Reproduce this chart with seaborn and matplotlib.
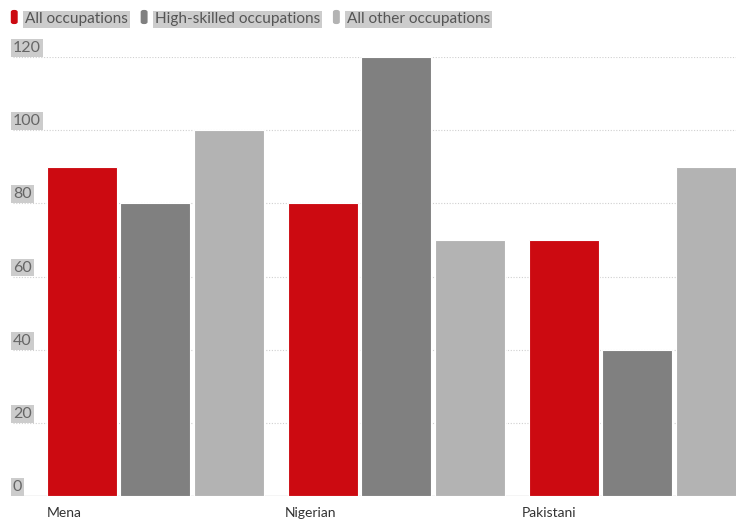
import matplotlib
matplotlib.use("Agg")
import matplotlib.pyplot as plt
import seaborn as sns
import pandas as pd
from matplotlib.patches import FancyBboxPatch
import matplotlib.transforms as mtransforms

categories = ["Mena", "Nigerian", "Pakistani"]
series = ["All occupations", "High-skilled occupations", "All other occupations"]
all_occ = [90, 80, 70]
high_skilled = [80, 120, 40]
all_other = [100, 70, 90]
yticks = [0, 20, 40, 60, 80, 100, 120]
colors = ["#cc0a11", "#808080", "#b3b3b3"]

rows = []
for s, vals in zip(series, [all_occ, high_skilled, all_other]):
    for c, v in zip(categories, vals):
        rows.append({"category": c, "series": s, "value": v})
df = pd.DataFrame(rows)

sns.set_theme(style="white")
plt.rcParams['font.family'] = ['Lato', 'DejaVu Sans']

fig = plt.figure(figsize=(7.36, 5.25), dpi=100)
ax = fig.add_axes([13/736, 29/525, 1 - 13/736, (496-57)/525])

sns.barplot(data=df, x="category", y="value", hue="series", order=categories,
            hue_order=series, palette=colors, width=0.912, gap=0.045,
            edgecolor="white", linewidth=0.8, saturation=1, ax=ax, legend=False)

ax.set_xlim(-0.591, 2.409)
ax.set_ylim(0, 120)
for s in ax.spines.values():
    s.set_visible(False)
ax.set_xticks([])
ax.set_yticks([])
ax.set_xlabel("")
ax.set_ylabel("")

trans = mtransforms.blended_transform_factory(ax.transAxes, ax.transData)
off = mtransforms.ScaledTranslation(0, 2/100, fig.dpi_scale_trans)
for t in yticks:
    if t == 0:
        ax.axhline(0, color="#cccccc", lw=1, zorder=0.5)
    else:
        ax.axhline(t, color="#d0d0d0", lw=0.8, ls=(0, (1, 1.5)), zorder=0.5)
    ax.text(0.0, t, str(t), transform=trans + off, ha="left", va="bottom",
            fontsize=11.5, color="#666666",
            bbox=dict(boxstyle="square,pad=0.12", fc="#cccccc", ec="none"))

# category labels, left-aligned under each group
for i, c in enumerate(categories):
    x0 = (47 + 237.5*i - 155.5) / 241
    ax.text(x0, -3.0, c, ha="left", va="top", fontsize=10, color="#333333",
            transform=ax.transData, clip_on=False)

# legend
x = 13
for s, col in zip(series, colors):
    p = FancyBboxPatch((x/736, 1 - 22.5/525), 2.5/736, 11/525,
                       boxstyle="round,pad=0.003,rounding_size=0.004",
                       transform=fig.transFigure, fc=col, ec="none")
    fig.patches.append(p)
    t = fig.text((x + 12)/736, 1 - 19.5/525, s, ha="left", va="center",
                 fontsize=11.1, color="#555555",
                 bbox=dict(boxstyle="square,pad=0.12", fc="#cccccc", ec="none"))
    fig.canvas.draw()
    bb = t.get_window_extent()
    x = bb.x1 + 15

fig.savefig("out.png", dpi=100)
